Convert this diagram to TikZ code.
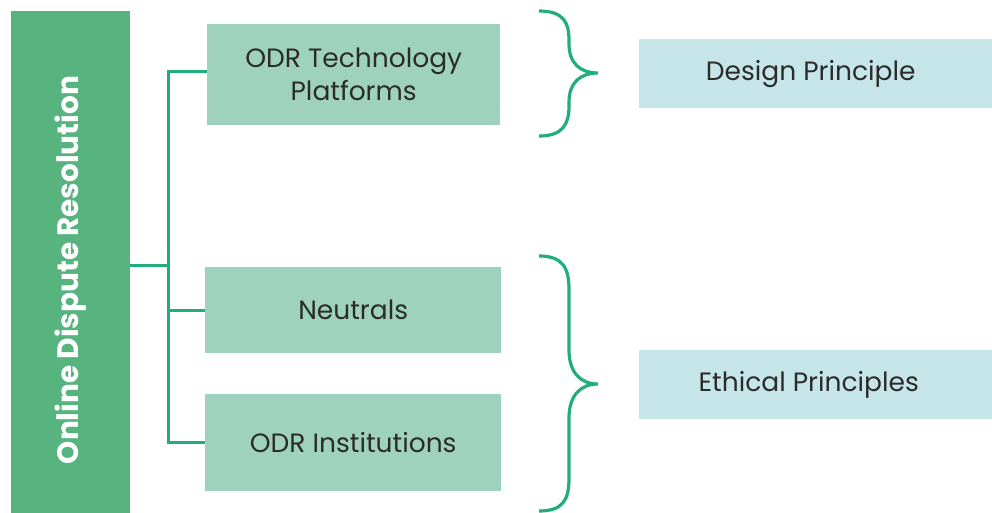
\documentclass[tikz,border=0pt]{standalone}
\usepackage{fontspec}
\setmainfont{Poppins}
\definecolor{barG}{HTML}{57B47E}
\definecolor{boxG}{HTML}{9FD2BE}
\definecolor{boxB}{HTML}{C5E5E8}
\definecolor{lineG}{HTML}{21AE7B}
\definecolor{txt}{HTML}{2B2B2B}
\begin{document}
\begin{tikzpicture}[x=1pt,y=-1pt,
  mid/.style={fill=boxG,draw=none,inner sep=0pt,align=center,font=\fontsize{26.5}{33}\selectfont,text=txt},
  rbox/.style={fill=boxB,draw=none,inner sep=0pt,align=center,font=\fontsize{26.5}{33}\selectfont,text=txt},
  conn/.style={draw=lineG,line width=3pt},
  brace/.style={draw=lineG,line width=3.2pt}]
\useasboundingbox (0,0) rectangle (992,513);
\node[fill=barG,inner sep=0pt,minimum width=119pt,minimum height=502pt,anchor=north west] (odr) at (11,11) {};
\node[rotate=90,text=white,font=\fontsize{29.5}{34}\selectfont\bfseries] (odrt) at (70.5,270) {Online Dispute Resolution};
\node[mid,minimum width=293pt,minimum height=101pt,anchor=north west] (tp) at (207,24) {ODR Technology\\Platforms};
\node[mid,minimum width=296pt,minimum height=86pt,anchor=north west] (ne) at (205,267) {Neutrals};
\node[mid,minimum width=296pt,minimum height=97pt,anchor=north west] (in) at (205,394) {ODR Institutions};
\node[rbox,minimum width=353pt,minimum height=69pt,anchor=north west] (dp) at (639,39) {\hspace*{-10pt}Design Principle};
\node[rbox,minimum width=353pt,minimum height=69pt,anchor=north west] (ep) at (639,350) {\hspace*{-14pt}Ethical Principles};
\coordinate (j) at (168,265);
\draw[conn] (odr.east |- j) -- (j);
\draw[conn] (tp.west |- 0,72) -| (168,442) -- (in.west |- 0,442);
\draw[conn] (168,310) -- (ne.west |- 0,310);
\draw[brace] (539,11) .. controls (563,11) and (569,22) .. (569,40) -- (569,44) .. controls (569,63) and (580,73) .. (598,73)
  .. controls (580,73) and (569,83) .. (569,102) -- (569,106) .. controls (569,124) and (563,136) .. (539,136);
\draw[brace] (539,256) .. controls (563,256) and (569,268) .. (569,290) -- (569,350) .. controls (569,372) and (580,384) .. (598,384)
  .. controls (580,384) and (569,396) .. (569,418) -- (569,478) .. controls (569,500) and (563,511) .. (539,511);
\end{tikzpicture}
\end{document}
